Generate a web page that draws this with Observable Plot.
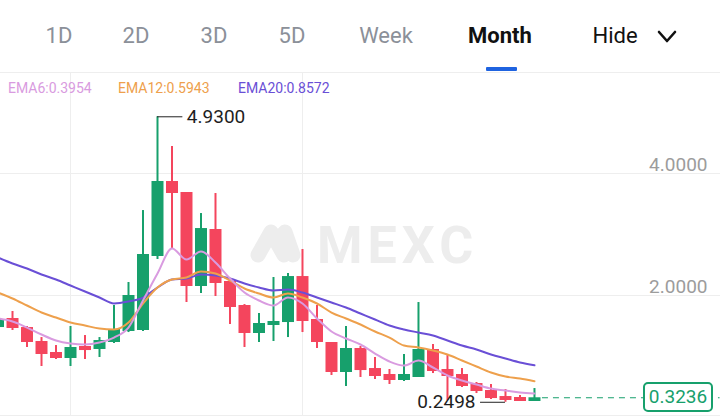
<!DOCTYPE html>
<html>
<head>
<meta charset="utf-8">
<script src="https://cdn.jsdelivr.net/npm/d3@7"></script>
<script src="https://cdn.jsdelivr.net/npm/@observablehq/plot@0.6"></script>
<style>
  html, body { margin: 0; padding: 0; background: #fff; width: 720px; height: 420px; overflow: hidden;
    font-family: Roboto, "Noto Sans", sans-serif; }
  #wrap { position: relative; width: 720px; height: 420px; }
  .tab { position: absolute; top: 22px; font-size: 22px; line-height: 28px; color: #8b9099;
    transform: translateX(-50%); white-space: nowrap; }
  .tab.active { color: #111; font-weight: 700; }
  .tab.hide { color: #111; }
  #underline { position: absolute; left: 486px; top: 67px; width: 31px; height: 4px; background: #1f63e0; border-radius: 1px; }
  .hline { position: absolute; left: 0; width: 720px; height: 1px; background: #eeeeee; }
  #legend { position: absolute; top: 79px; left: 0; font-size: 14px; line-height: 18px; z-index: 3; }
  #legend span { position: absolute; white-space: nowrap; }
  #chart { position: absolute; left: 0; top: 72px; z-index: 2; }
  #wm { position: absolute; left: 0; top: 0; z-index: 1; }
  #lastbox { position: absolute; left: 643px; width: 66px; height: 26px; border: 2px solid #17a06c;
    border-radius: 5px; background: #fff; color: #17a06c; font-size: 19px; line-height: 26px;
    text-align: center; z-index: 4; }
</style>
</head>
<body>
<div id="wrap">
  <div class="tab" style="left:59px">1D</div>
  <div class="tab" style="left:136px">2D</div>
  <div class="tab" style="left:214px">3D</div>
  <div class="tab" style="left:292px">5D</div>
  <div class="tab" style="left:386px">Week</div>
  <div class="tab active" style="left:500px">Month</div>
  <div class="tab hide" style="left:615px">Hide</div>
  <svg style="position:absolute;left:655px;top:27px" width="26" height="20">
    <polyline points="4,5 12,14 20,5" fill="none" stroke="#111" stroke-width="2.6" stroke-linecap="round" stroke-linejoin="round"/>
  </svg>
  <div id="underline"></div>
  <div class="hline" style="top:72px"></div>
  <div class="hline" style="top:415px"></div>
  <svg id="wm" width="720" height="420">
    <g fill="none" stroke="#ededed" stroke-width="15" stroke-linecap="round" stroke-linejoin="round">
      <path d="M258,255 L271,232 L284,255"/>
      <path d="M280,238 L285,232 L293,255"/>
    </g>
    <text x="317" y="263" font-size="52" font-weight="700" fill="#ededed" letter-spacing="5"
      font-family="Roboto, sans-serif">MEXC</text>
  </svg>
  <div id="legend"></div>
  <div id="chart"></div>
  <div id="lastbox"></div>
</div>
<script>
// Monthly candles (index 0 = partially visible first candle)
const openP  = [1.475,1.623,1.475,1.246,1.066,0.967,1.164,1.115,1.230,1.410,1.426,2.639,3.869,3.689,2.148,3.082,2.230,1.836,1.377,1.508,1.557,2.311,1.607,1.230,0.738,1.131,0.803,0.705,0.607,0.656,1.115,0.787,0.705,0.557,0.443,0.344,0.328,0.262];
const highP  = [1.656,1.738,1.492,1.311,1.180,1.492,1.344,1.311,1.836,2.213,3.393,4.930,4.443,3.689,3.344,3.672,2.230,1.852,1.705,2.295,2.361,2.754,1.836,1.230,1.492,1.164,0.984,0.787,1.033,1.885,1.197,1.016,0.803,0.574,0.541,0.459,0.361,0.475];
const lowP   = [1.426,1.426,1.148,0.836,0.951,0.836,0.951,0.984,1.213,1.393,1.410,2.590,2.770,1.885,2.033,1.984,1.525,1.148,1.230,1.246,1.311,1.393,1.131,0.689,0.508,0.656,0.623,0.541,0.590,0.656,0.721,0.279,0.492,0.393,0.295,0.2498,0.262,0.262];
const closeP = [1.607,1.459,1.230,1.033,0.967,1.148,1.098,1.262,1.443,2.000,2.672,3.869,3.672,2.148,3.098,2.197,1.803,1.377,1.541,1.574,2.311,1.574,1.230,0.738,1.131,0.770,0.672,0.607,0.705,1.115,0.754,0.672,0.508,0.426,0.311,0.279,0.262,0.3236];

// Moving averages
const ema6  = [1.623,1.574,1.475,1.361,1.262,1.213,1.197,1.230,1.311,1.475,1.918,2.361,2.770,2.590,2.721,2.541,2.279,2.049,1.918,1.836,1.967,1.869,1.623,1.410,1.295,1.197,1.049,0.918,0.852,0.934,0.820,0.689,0.607,0.541,0.475,0.443,0.410,0.3954];
const ema12 = [2.049,1.951,1.836,1.721,1.639,1.557,1.508,1.459,1.443,1.557,1.869,2.131,2.262,2.295,2.393,2.361,2.246,2.115,2.033,1.967,2.033,1.967,1.869,1.721,1.623,1.525,1.410,1.311,1.180,1.148,1.098,1.033,0.934,0.836,0.738,0.672,0.639,0.5943];
const ema20 = [2.623,2.525,2.443,2.344,2.262,2.164,2.066,1.967,1.869,1.902,1.967,2.131,2.262,2.279,2.344,2.328,2.279,2.197,2.131,2.082,2.098,2.049,1.967,1.885,1.803,1.705,1.607,1.508,1.443,1.393,1.344,1.262,1.180,1.115,1.033,0.967,0.902,0.8572];

const yTicks = [2, 4];
const gridIdx = [5, 21];
const emaNames = ["EMA6", "EMA12", "EMA20"];
const emaLast = [0.3954, 0.5943, 0.8572];
const highMark = {i: 11, v: 4.93};
const lowMark = {i: 35, v: 0.2498};
const lastPrice = 0.3236;

const green = "#17a06c", red = "#f4455d";
const emaColors = ["#d99be0", "#eea04c", "#6a4fd6"];
const fmt = d3.format(".4f");

const candles = openP.map((o, i) => ({i, open: o, high: highP[i], low: lowP[i], close: closeP[i],
  color: closeP[i] >= o ? green : red}));
const emaSeries = [ema6, ema12, ema20];

// legend
const legend = document.getElementById("legend");
const lefts = [8, 118, 238];
emaNames.forEach((n, k) => {
  const s = document.createElement("span");
  s.textContent = `${n}:${emaLast[k].toFixed(4)}`;
  s.style.left = lefts[k] + "px";
  s.style.color = emaColors[k];
  legend.appendChild(s);
});

const lastIdx = candles.length - 1;

const chart = Plot.plot({
  width: 720,
  height: 343,
  margin: 0,
  x: {domain: [0.172, 49.83], axis: null},
  y: {domain: [0.033, 5.656], axis: null},
  color: {type: "identity"},
  style: {background: "transparent", fontFamily: "Roboto, sans-serif", overflow: "visible"},
  marks: [
    Plot.gridY(yTicks, {stroke: "#eeeeee", strokeOpacity: 1}),
    Plot.gridX(gridIdx, {stroke: "#eeeeee", strokeOpacity: 1}),
    Plot.text(yTicks, {y: d => d, text: d => fmt(d), frameAnchor: "right", textAnchor: "end",
      dx: -13, dy: -9, fontSize: 19, fill: "#9c9c9c"}),
    Plot.ruleX(candles, {x: "i", y1: "low", y2: "high", stroke: "color", strokeWidth: 2, clip: true}),
    Plot.ruleX(candles, {x: "i", y1: "open", y2: "close", stroke: "color", strokeWidth: 12, clip: true}),
    ...emaSeries.slice().reverse().map((s, k) =>
      Plot.line(s, {x: (d, i) => i, y: d => d, stroke: emaColors[2 - k], strokeWidth: 2,
        curve: "monotone-x", clip: true})),
    // highest price marker
    Plot.ruleY([highMark], {y: "v", x1: "i", x2: d => d.i + 1.75, stroke: "#222", strokeWidth: 1}),
    Plot.text([highMark], {x: d => d.i + 1.75, y: "v", text: d => fmt(d.v), textAnchor: "start",
      dx: 4, fontSize: 19, fill: "#1e1e1e"}),
    // lowest price marker
    Plot.ruleY([lowMark], {y: "v", x1: d => d.i - 1.72, x2: "i", stroke: "#222", strokeWidth: 1}),
    Plot.text([lowMark], {x: d => d.i - 1.72, y: "v", text: d => fmt(d.v), textAnchor: "end",
      dx: -5, fontSize: 19, fill: "#1e1e1e"}),
    // last price dashed line
    Plot.ruleY([lastPrice], {y: d => d, x1: lastIdx + 0.55, x2: 49.8, stroke: green,
      strokeWidth: 1.2, strokeDasharray: "6,5"})
  ]
});
document.getElementById("chart").appendChild(chart);

const yy = chart.scale("y").apply(lastPrice) + 72;
const box = document.getElementById("lastbox");
box.textContent = fmt(lastPrice);
box.style.top = (yy - 15) + "px";
</script>
</body>
</html>
